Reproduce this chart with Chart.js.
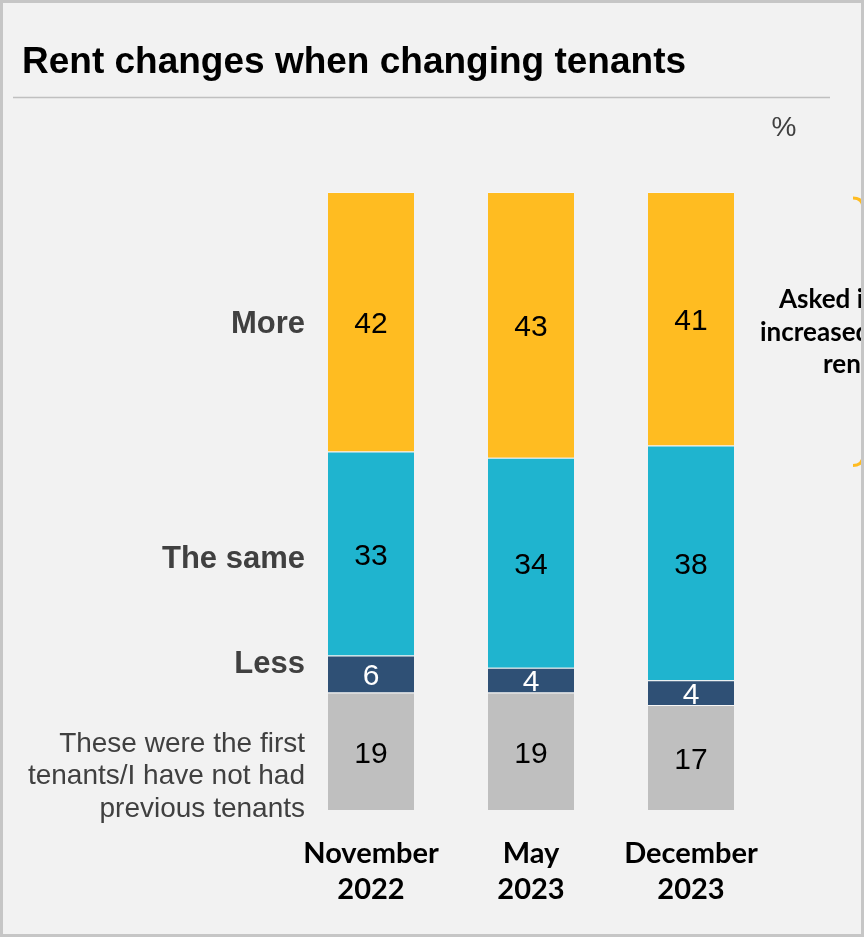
<!DOCTYPE html>
<html>
<head>
<meta charset="utf-8">
<title>Rent changes when changing tenants</title>
<script src="https://cdn.jsdelivr.net/npm/chart.js@4.4.1/dist/chart.umd.min.js"></script>
<style>
  html, body { margin: 0; padding: 0; background: #f2f2f2; }
  #wrap { position: relative; width: 864px; height: 937px; background: #f2f2f2; overflow: hidden; }
  #chart { position: absolute; left: 0; top: 0; }
  #frame { position: absolute; left: 0; top: 0; width: 864px; height: 937px; box-sizing: border-box;
           border: 3px solid #c6c6c6; pointer-events: none; }
</style>
</head>
<body>
<div id="wrap">
  <canvas id="chart" width="864" height="937"></canvas>
  <div id="frame"></div>
</div>
<script>
// Survey waves
const categories = [['November', '2022'], ['May', '2023'], ['December', '2023']];

// Shares in %, bottom segment first
const firstTenants = [19, 19, 17];
const less = [6, 4, 4];
const same = [33, 34, 38];
const more = [42, 43, 41];

// Row labels shown left of the first bar
const firstTenantsLabel = ['These were the first', 'tenants/I have not had', 'previous tenants'];
const lessLabel = ['Less'];
const sameLabel = ['The same'];
const moreLabel = ['More'];

const noteLines = ['Asked if they', 'increased the', 'rent'];

const ARIAL = "'Liberation Sans', Arial, sans-serif";
const TEXT_GREY = '#404040';

// row label styling: bold flag and vertical nudge from segment centre
const rowLabelStyle = [
    { bold: false, size: 28, lineHeight: 32.5, dy: 25 },
    { bold: true, size: 31, lineHeight: 34, dy: -10 },
    { bold: true, size: 31, lineHeight: 34, dy: 6 },
    { bold: true, size: 31, lineHeight: 34, dy: 3 }
];

const extras = {
    id: 'extras',
    afterDatasetsDraw(chart) {
        const ctx = chart.ctx;
        ctx.save();

        // values inside each segment
        chart.data.datasets.forEach((ds, i) => {
            const meta = chart.getDatasetMeta(i);
            meta.data.forEach((bar, j) => {
                ctx.font = '30px ' + ARIAL;
                ctx.fillStyle = ds.valueColor;
                ctx.textAlign = 'center';
                ctx.textBaseline = 'middle';
                ctx.fillText(String(ds.data[j]), bar.x, (bar.y + bar.base) / 2 + 3);
            });
        });

        // row labels, right aligned against the first bar
        chart.data.datasets.forEach((ds, i) => {
            const bar = chart.getDatasetMeta(i).data[0];
            const st = rowLabelStyle[i];
            const lines = ds.rowLabel;
            const mid = (bar.y + bar.base) / 2 + st.dy;
            ctx.font = (st.bold ? 'bold ' : '') + st.size + 'px ' + ARIAL;
            ctx.fillStyle = TEXT_GREY;
            ctx.textAlign = 'right';
            ctx.textBaseline = 'middle';
            lines.forEach((line, k) => {
                const y = mid + (k - (lines.length - 1) / 2) * st.lineHeight;
                ctx.fillText(line, bar.x - bar.width / 2 - 23, y);
            });
        });
        ctx.restore();
    },
    afterDraw(chart) {
        const ctx = chart.ctx;
        ctx.save();

        // title and rule
        ctx.font = 'bold 37px ' + ARIAL;
        ctx.fillStyle = '#000';
        ctx.textAlign = 'left';
        ctx.textBaseline = 'alphabetic';
        ctx.fillText('Rent changes when changing tenants', 22, 73);
        ctx.strokeStyle = '#c0c0c0';
        ctx.lineWidth = 1.5;
        ctx.beginPath();
        ctx.moveTo(13, 97.5);
        ctx.lineTo(830, 97.5);
        ctx.stroke();

        // unit
        ctx.font = '28px ' + ARIAL;
        ctx.fillStyle = TEXT_GREY;
        ctx.textAlign = 'center';
        ctx.textBaseline = 'middle';
        ctx.fillText('%', 784, 128);

        // brace around the "More" rows
        const top = chart.scales.y.getPixelForValue(100) + 6;
        const bottom = chart.getDatasetMeta(2).data[2].y + 20;
        ctx.strokeStyle = '#ffbc21';
        ctx.lineWidth = 3;
        ctx.beginPath();
        ctx.moveTo(853, top);
        ctx.quadraticCurveTo(863, top, 863, top + 10);
        ctx.lineTo(863, (top + bottom) / 2 - 10);
        ctx.quadraticCurveTo(863, (top + bottom) / 2, 873, (top + bottom) / 2);
        ctx.quadraticCurveTo(863, (top + bottom) / 2, 863, (top + bottom) / 2 + 10);
        ctx.lineTo(863, bottom - 10);
        ctx.quadraticCurveTo(863, bottom, 853, bottom);
        ctx.stroke();

        // note next to the brace
        ctx.font = 'bold 26px Lato, sans-serif';
        ctx.fillStyle = '#000';
        ctx.textAlign = 'left';
        ctx.textBaseline = 'middle';
        const noteX = [779, 760, 823];
        noteLines.forEach((line, k) => ctx.fillText(line, noteX[k], 300 + k * 32.5));

        ctx.restore();
    }
};

const segBorder = 'rgba(255,255,255,0.35)';

new Chart(document.getElementById('chart'), {
    type: 'bar',
    data: {
        labels: categories,
        datasets: [
            { label: 'First tenants', data: firstTenants, backgroundColor: '#bfbfbf', valueColor: '#000', rowLabel: firstTenantsLabel },
            { label: 'Less', data: less, backgroundColor: '#2f5075', valueColor: '#fff', rowLabel: lessLabel },
            { label: 'The same', data: same, backgroundColor: '#1fb4cf', valueColor: '#000', rowLabel: sameLabel },
            { label: 'More', data: more, backgroundColor: '#ffbc21', valueColor: '#000', rowLabel: moreLabel }
        ].map(ds => Object.assign(ds, {
            borderColor: segBorder,
            borderWidth: { top: 1 },
            borderSkipped: false,
            categoryPercentage: 1,
            barPercentage: 86 / 160
        }))
    },
    options: {
        responsive: false,
        devicePixelRatio: 1,
        animation: false,
        layout: { padding: { left: 291, right: 93, top: 192, bottom: 3 } },
        scales: {
            x: {
                stacked: true,
                grid: { display: false, drawTicks: false },
                border: { display: false },
                ticks: {
                    color: '#000',
                    padding: 26,
                    font: { family: 'Lato, sans-serif', weight: 'bold', size: 29, lineHeight: '36px' }
                }
            },
            y: {
                stacked: true,
                display: false,
                min: 0,
                max: 100
            }
        },
        plugins: {
            legend: { display: false },
            tooltip: { enabled: false }
        }
    },
    plugins: [extras]
});
</script>
</body>
</html>
